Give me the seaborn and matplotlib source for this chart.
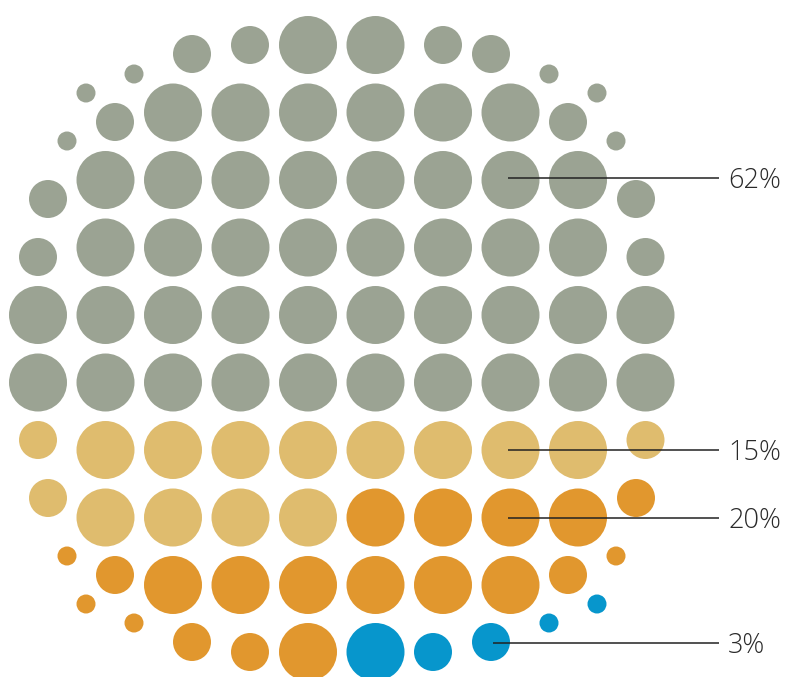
import matplotlib
matplotlib.use("Agg")
import matplotlib.pyplot as plt
import pandas as pd
import seaborn as sns

# dot centres / radii in pixel units (y grows downward)
dot_x = [
    192, 250, 308, 375.5, 443, 491,
    134, 549, 86, 597,
    115, 173, 240.5, 308, 375.5, 443, 510.5, 568,
    67, 616,
    48, 105.5, 173, 240.5, 308, 375.5, 443, 510.5, 578, 636,
    38, 105.5, 173, 240.5, 308, 375.5, 443, 510.5, 578, 645.5,
    38, 105.5, 173, 240.5, 308, 375.5, 443, 510.5, 578, 645.5,
    38, 105.5, 173, 240.5, 308, 375.5, 443, 510.5, 578, 645.5,
    38, 105.5, 173, 240.5, 308, 375.5, 443, 510.5, 578, 645.5,
    48, 105.5, 173, 240.5, 308, 375.5, 443, 510.5, 578, 636,
    67, 616,
    115, 173, 240.5, 308, 375.5, 443, 510.5, 568,
    86, 134, 192, 250, 308,
    375.5, 433, 491, 549, 597,
]
dot_y = [
    54, 45, 45, 45, 45, 54,
    74, 74, 93, 93,
    122, 112.5, 112.5, 112.5, 112.5, 112.5, 112.5, 122,
    141, 141,
    199, 180, 180, 180, 180, 180, 180, 180, 180, 199,
    257, 247.5, 247.5, 247.5, 247.5, 247.5, 247.5, 247.5, 247.5, 257,
    315, 315, 315, 315, 315, 315, 315, 315, 315, 315,
    382.5, 382.5, 382.5, 382.5, 382.5, 382.5, 382.5, 382.5, 382.5, 382.5,
    440, 450, 450, 450, 450, 450, 450, 450, 450, 440,
    498, 517.5, 517.5, 517.5, 517.5, 517.5, 517.5, 517.5, 517.5, 498,
    556, 556,
    575, 585, 585, 585, 585, 585, 585, 575,
    604, 623, 642, 652, 652,
    652, 652, 642, 623, 604,
]
dot_r = [
    19, 19, 29, 29, 19, 19,
    9.5, 9.5, 9.5, 9.5,
    19, 29, 29, 29, 29, 29, 29, 19,
    9.5, 9.5,
    19, 29, 29, 29, 29, 29, 29, 29, 29, 19,
    19, 29, 29, 29, 29, 29, 29, 29, 29, 19,
    29, 29, 29, 29, 29, 29, 29, 29, 29, 29,
    29, 29, 29, 29, 29, 29, 29, 29, 29, 29,
    19, 29, 29, 29, 29, 29, 29, 29, 29, 19,
    19, 29, 29, 29, 29, 29, 29, 29, 29, 19,
    9.5, 9.5,
    19, 29, 29, 29, 29, 29, 29, 19,
    9.5, 9.5, 19, 19, 29,
    29, 19, 19, 9.5, 9.5,
]
dot_group = (["a"] * 60 + ["b"] * 10
             + ["b"] * 5 + ["c"] * 5
             + ["c"] * 15
             + ["d"] * 5)

label_text = ["62%", "15%", "20%", "3%"]
label_y = [178, 450, 518, 643]
label_x0 = [508, 508, 508, 493]

palette = {"a": "#9ba393", "b": "#dfbc6e", "c": "#e1972e", "d": "#0796cc"}

df = pd.DataFrame({"x": dot_x, "y": dot_y, "r": dot_r, "group": dot_group})

sns.set_theme(style="white")
plt.rcParams["font.family"] = ["Open Sans", "DejaVu Sans"]

W, H, DPI = 786, 677, 100
fig = plt.figure(figsize=(W / DPI, H / DPI), dpi=DPI)
ax = fig.add_axes([0, 0, 1, 1])
ax.set_xlim(0, W); ax.set_ylim(H, 0)

# marker area in pt^2 so the diameter matches 2r pixels
sizes = {r: (2 * r * 72 / DPI) ** 2 for r in set(dot_r)}
sns.scatterplot(data=df, x="x", y="y", hue="group", palette=palette,
                size="r", sizes=sizes, linewidth=0, legend=False, ax=ax)

for t, y, x0 in zip(label_text, label_y, label_x0):
    ax.plot([x0, 719], [y, y], color="#222222", lw=1.1, solid_capstyle="butt")
    # baseline sits half a cap height below the leader line
    ax.text(728, y + 10, t, ha="left", va="baseline", fontsize=19.5,
            color="#2a2a2a", fontweight="light")

ax.set_axis_off()
fig.savefig("out.png", dpi=DPI)
